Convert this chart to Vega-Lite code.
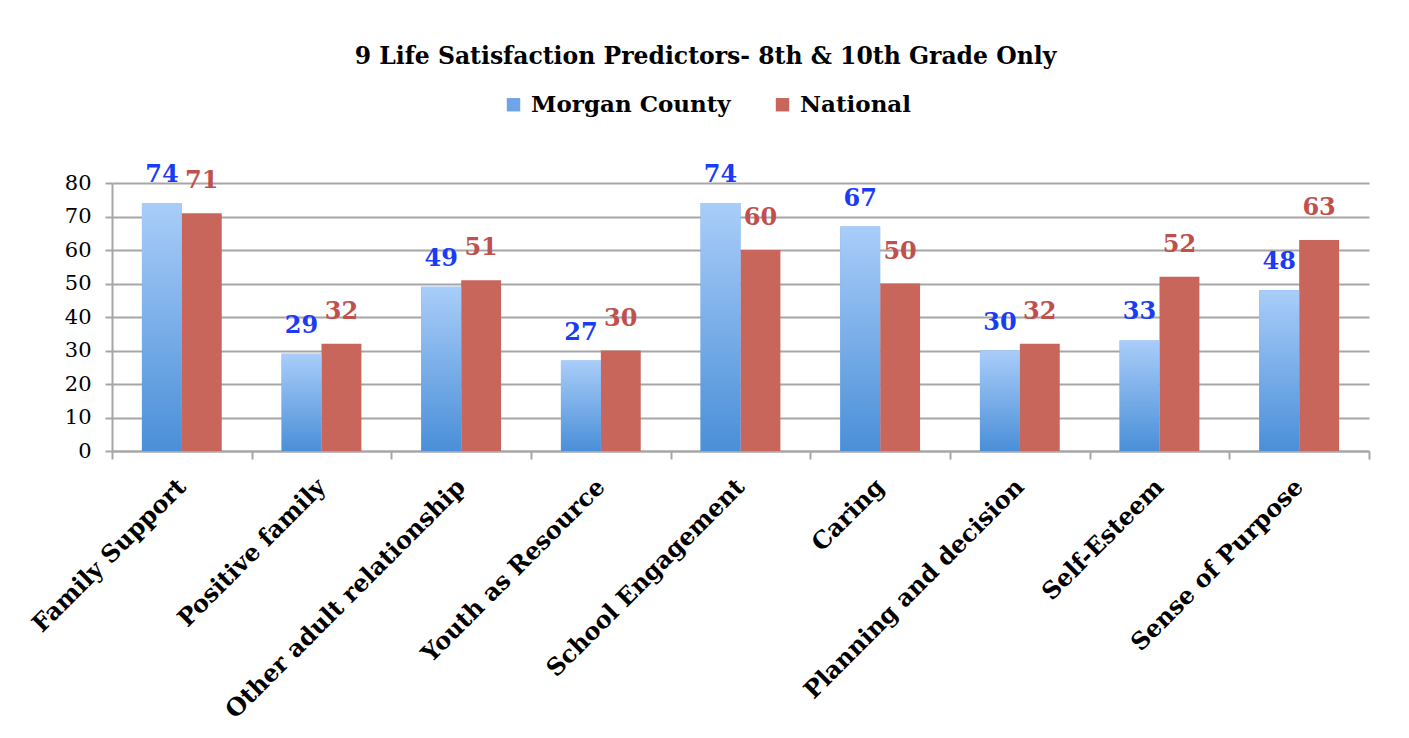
{
  "$schema": "https://vega.github.io/schema/vega-lite/v6.json",
  "width": 1257,
  "height": 268,
  "autosize": {"type": "none"},
  "padding": {"left": 112, "top": 183, "right": 40, "bottom": 287},
  "background": "white",
  "title": {
    "text": "9 Life Satisfaction Predictors- 8th & 10th Grade Only",
    "font": "DejaVu Serif",
    "fontSize": 23.5,
    "fontWeight": "bold",
    "color": "black",
    "anchor": "middle",
    "dx": -35,
    "offset": 25
  },
  "data": {
    "values": [
      {"category": "Family Support", "group": "Morgan County", "value": 74},
      {"category": "Family Support", "group": "National", "value": 71},
      {"category": "Positive family", "group": "Morgan County", "value": 29},
      {"category": "Positive family", "group": "National", "value": 32},
      {"category": "Other adult relationship", "group": "Morgan County", "value": 49},
      {"category": "Other adult relationship", "group": "National", "value": 51},
      {"category": "Youth as Resource", "group": "Morgan County", "value": 27},
      {"category": "Youth as Resource", "group": "National", "value": 30},
      {"category": "School Engagement", "group": "Morgan County", "value": 74},
      {"category": "School Engagement", "group": "National", "value": 60},
      {"category": "Caring", "group": "Morgan County", "value": 67},
      {"category": "Caring", "group": "National", "value": 50},
      {"category": "Planning and decision", "group": "Morgan County", "value": 30},
      {"category": "Planning and decision", "group": "National", "value": 32},
      {"category": "Self-Esteem", "group": "Morgan County", "value": 33},
      {"category": "Self-Esteem", "group": "National", "value": 52},
      {"category": "Sense of Purpose", "group": "Morgan County", "value": 48},
      {"category": "Sense of Purpose", "group": "National", "value": 63}
    ]
  },
  "encoding": {
    "x": {
      "field": "category",
      "type": "nominal",
      "sort": null,
      "scale": {"paddingInner": 0, "paddingOuter": 0},
      "axis": {
        "title": null,
        "labelAngle": -45,
        "labelAlign": "right",
        "labelBaseline": "middle",
        "labelFont": "DejaVu Serif",
        "labelFontSize": 24,
        "labelFontWeight": "bold",
        "labelColor": "black",
        "labelPadding": 24,
        "labelLimit": 500,
        "domainColor": "#a6a6a6",
        "domainWidth": 2,
        "tickColor": "#a6a6a6",
        "tickWidth": 2,
        "tickSize": 8,
        "tickBand": "extent",
        "grid": false
      }
    },
    "xOffset": {
      "field": "group",
      "type": "nominal",
      "sort": ["Morgan County", "National"],
      "scale": {"paddingInner": 0, "paddingOuter": 0.75}
    },
    "y": {
      "field": "value",
      "type": "quantitative",
      "scale": {"domain": [0, 80], "nice": false},
      "axis": {
        "title": null,
        "values": [0, 10, 20, 30, 40, 50, 60, 70, 80],
        "labelFont": "DejaVu Serif",
        "labelFontSize": 21,
        "labelColor": "black",
        "labelPadding": 14,
        "domainColor": "#a6a6a6",
        "domainWidth": 2,
        "tickColor": "#a6a6a6",
        "tickWidth": 2,
        "tickSize": 7,
        "grid": true,
        "gridColor": "#a6a6a6",
        "gridWidth": 2
      }
    }
  },
  "layer": [
    {
      "mark": {"type": "bar"},
      "encoding": {
        "color": {
          "field": "group",
          "type": "nominal",
          "scale": {"domain": ["Morgan County", "National"], "range": ["#6fa5e8", "#c9665b"]},
          "legend": {
            "title": null,
            "orient": "none",
            "legendX": 390,
            "legendY": -90,
            "direction": "horizontal",
            "symbolType": "square",
            "symbolSize": 180,
            "symbolStrokeWidth": 0,
            "labelFont": "DejaVu Serif",
            "labelFontSize": 23,
            "labelFontWeight": "bold",
            "labelColor": "black",
            "labelLimit": 400,
            "labelOffset": 6,
            "columnPadding": 40
          }
        }
      }
    },
    {
      "transform": [{"filter": "datum.group === 'Morgan County'"}],
      "mark": {
        "type": "bar",
        "fill": {
          "gradient": "linear",
          "x1": 0, "y1": 0, "x2": 0, "y2": 1,
          "stops": [
            {"offset": 0, "color": "#a9cdf9"},
            {"offset": 1, "color": "#4a8fd8"}
          ]
        }
      }
    },
    {
      "transform": [{"filter": "datum.group === 'Morgan County'"}],
      "mark": {
        "type": "text",
        "baseline": "bottom",
        "dy": -16,
        "font": "DejaVu Serif",
        "fontSize": 24,
        "fontWeight": "bold",
        "color": "#1a3cf5"
      },
      "encoding": {"text": {"field": "value", "type": "quantitative"}}
    },
    {
      "transform": [{"filter": "datum.group === 'National'"}],
      "mark": {
        "type": "text",
        "baseline": "bottom",
        "dy": -20,
        "font": "DejaVu Serif",
        "fontSize": 24,
        "fontWeight": "bold",
        "color": "#c0504d"
      },
      "encoding": {"text": {"field": "value", "type": "quantitative"}}
    }
  ],
  "config": {"view": {"stroke": null}}
}
